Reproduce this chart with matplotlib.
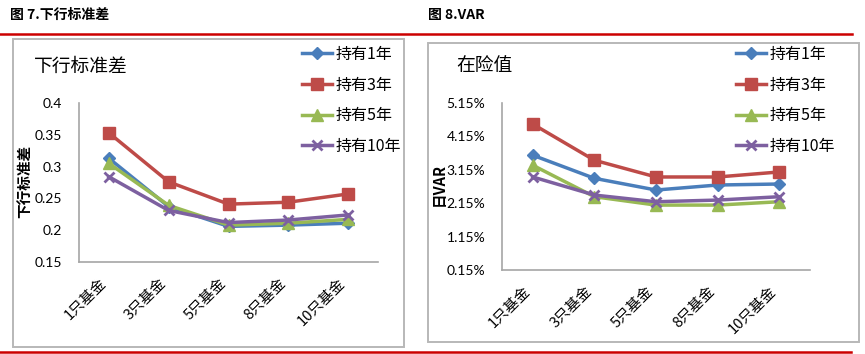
import matplotlib
matplotlib.use("Agg")
import matplotlib.pyplot as plt
from matplotlib.patches import Rectangle
from matplotlib.lines import Line2D
from matplotlib.transforms import ScaledTranslation

plt.rcParams['font.family'] = ['Noto Sans CJK SC', 'DejaVu Sans']

categories = ["1只基金", "3只基金", "5只基金", "8只基金", "10只基金"]
series_names = ["持有1年", "持有3年", "持有5年", "持有10年"]

# 下行标准差
dsd_1y = [0.313, 0.237, 0.206, 0.208, 0.211]
dsd_3y = [0.353, 0.276, 0.241, 0.244, 0.257]
dsd_5y = [0.305, 0.239, 0.208, 0.211, 0.217]
dsd_10y = [0.284, 0.231, 0.212, 0.216, 0.224]
dsd_ticks = [0.15, 0.2, 0.25, 0.3, 0.35, 0.4]
dsd_ticklabels = ["0.15", "0.2", "0.25", "0.3", "0.35", "0.4"]

# 日VAR (%)
var_1y = [3.58, 2.89, 2.54, 2.69, 2.72]
var_3y = [4.51, 3.43, 2.93, 2.93, 3.08]
var_5y = [3.28, 2.34, 2.09, 2.09, 2.19]
var_10y = [2.93, 2.39, 2.19, 2.24, 2.34]
var_ticks = [0.15, 1.15, 2.15, 3.15, 4.15, 5.15]
var_ticklabels = ["0.15%", "1.15%", "2.15%", "3.15%", "4.15%", "5.15%"]

colors = ["#4A7EBB", "#BE4B48", "#98B954", "#7D60A0"]
markers = ["D", "s", "^", "x"]
msizes = [6, 8, 8, 7]

W, H = 865, 354
fig = plt.figure(figsize=(W / 100, H / 100), dpi=100)

def fx(px):
    return px / W

def fy(py):
    return 1 - py / H

# Frames
fig.patches.append(Rectangle((fx(13), fy(347)), fx(404 - 13), (347 - 39) / H,
                             transform=fig.transFigure, fill=False,
                             edgecolor="#B8B8B8", linewidth=1.4))
fig.patches.append(Rectangle((fx(428), fy(342)), fx(859 - 428), (342 - 43) / H,
                             transform=fig.transFigure, fill=False,
                             edgecolor="#B8B8B8", linewidth=1.4))

# Red rule lines
fig.add_artist(Line2D([0, fx(852)], [fy(34), fy(34)], color="#CC0000", linewidth=1.8))
fig.add_artist(Line2D([0, fx(851)], [fy(352), fy(352)], color="#CC0000", linewidth=1.8))

# Figure titles
fig.text(fx(10), fy(15), "图 7.下行标准差", fontsize=10, fontweight="bold",
         ha="left", va="center")
fig.text(fx(428), fy(15), "图 8.VAR", fontsize=10, fontweight="bold",
         ha="left", va="center")

def draw(ax, data, ticks, ticklabels, ylim, title, ylabel, title_xy, ylabel_xy, legend_xy):
    x = list(range(len(categories)))
    handles = []
    for vals, c, m, ms, name in zip(data, colors, markers, msizes, series_names):
        mew = 2 if m == "x" else 1
        h, = ax.plot(x, vals, color=c, marker=m, markersize=ms, linewidth=2.5,
                     markeredgewidth=mew, markeredgecolor=c, label=name)
        handles.append(h)
    ax.set_xlim(-0.5, len(categories) - 0.5)
    ax.set_ylim(*ylim)
    ax.set_yticks(ticks)
    ax.set_yticklabels(ticklabels, fontfamily=["Lato", "DejaVu Sans"], fontsize=10)
    ax.set_xticks(x)
    ax.set_xticklabels(categories, rotation=45, ha="right", va="top",
                       fontsize=10.5)
    off = ScaledTranslation(5 / 100, 0, fig.dpi_scale_trans)
    for lbl in ax.get_xticklabels():
        lbl.set_transform(lbl.get_transform() + off)
    ax.tick_params(axis="both", length=0)
    ax.tick_params(axis="y", pad=12)
    ax.tick_params(axis="x", pad=10)
    for s in ["top", "right"]:
        ax.spines[s].set_visible(False)
    ax.spines["left"].set_color("#A6A6A6")
    ax.spines["bottom"].set_color("#A6A6A6")
    ax.spines["left"].set_linewidth(1.2)
    ax.spines["bottom"].set_linewidth(1.2)
    ax.set_facecolor("none")
    fig.text(fx(title_xy[0]), fy(title_xy[1]), title, fontsize=13.5,
             ha="left", va="center")
    fig.text(fx(ylabel_xy[0]), fy(ylabel_xy[1]), ylabel, fontsize=10.5,
             fontweight="bold", rotation=90, ha="center", va="center",
             family=["Noto Sans CJK SC", "DejaVu Sans"])
    fig.legend(handles=handles, loc="upper left",
               bbox_to_anchor=(fx(legend_xy[0]), fy(legend_xy[1])),
               frameon=False, fontsize=11.5, handlelength=1.9,
               handletextpad=0.2, labelspacing=0.85, borderpad=0,
               borderaxespad=0)

ax1 = fig.add_axes([fx(79), fy(262), fx(378 - 79), (262 - 103) / H])
draw(ax1, [dsd_1y, dsd_3y, dsd_5y, dsd_10y], dsd_ticks, dsd_ticklabels,
     (0.15, 0.4), "下行标准差", "下行标准差", (34, 66), (24, 181), (302, 46))

ax2 = fig.add_axes([fx(502), fy(270), fx(810 - 502), (270 - 102.7) / H])
draw(ax2, [var_1y, var_3y, var_5y, var_10y], var_ticks, var_ticklabels,
     (0.15, 5.15), "在险值", "日VAR", (456, 66), (439, 184), (736, 46))

fig.savefig("out.png", dpi=100)
